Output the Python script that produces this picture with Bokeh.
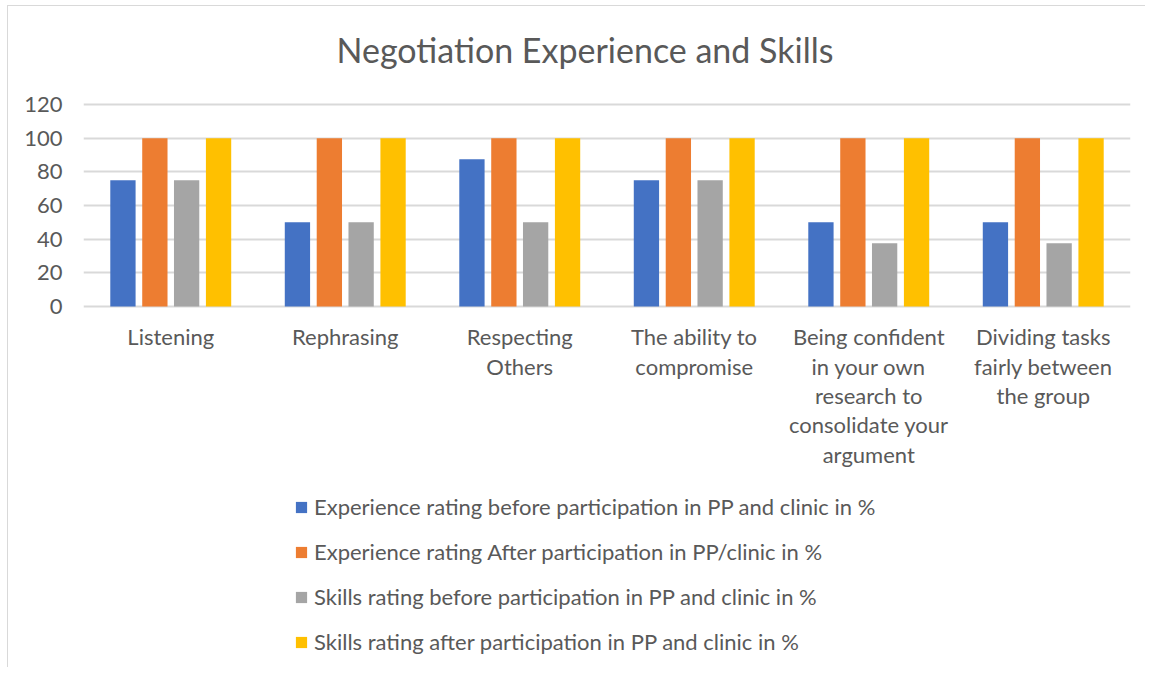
from bokeh.plotting import figure
from bokeh.models import ColumnDataSource, FactorRange, Legend, LegendItem, Range1d, FixedTicker
from bokeh.core.properties import value
from bokeh.transform import dodge
from bokeh.embed import file_html
from bokeh.resources import INLINE

title_text = "Negotiation Experience and Skills"
categories = [
    "Listening",
    "Rephrasing",
    "Respecting\nOthers",
    "The ability to\ncompromise",
    "Being confident\nin your own\nresearch to\nconsolidate your\nargument",
    "Dividing tasks\nfairly between\nthe group",
]
exp_before = [75, 50, 87.5, 75, 50, 50]
exp_after = [100, 100, 100, 100, 100, 100]
skills_before = [75, 50, 50, 75, 37.5, 37.5]
skills_after = [100, 100, 100, 100, 100, 100]
series_names = [
    "Experience rating before participation in PP and clinic in %",
    "Experience rating After participation in PP/clinic in %",
    "Skills rating before participation in PP and clinic in %",
    "Skills rating after participation in PP and clinic in %",
]
y_ticks = [0, 20, 40, 60, 80, 100, 120]
series_values = [exp_before, exp_after, skills_before, skills_after]
colors = ["#4472C4", "#ED7D31", "#A5A5A5", "#FFC000"]
offsets = [-0.274, -0.091, 0.091, 0.274]
bar_width = 0.145

FONT = "Lato"
TXT = "#595959"

# The frame extends above and below the value axis to hold title, category labels and legend.
Y_BOTTOM = -212.7
Y_TOP = 175.25
LABEL_Y = -9.9
TITLE_Y = 152.6

p = figure(
    frame_width=1047, frame_height=653,
    x_range=FactorRange(*categories, range_padding=0),
    y_range=Range1d(Y_BOTTOM, Y_TOP),
    output_backend="svg", toolbar_location=None,
    min_border_left=75, min_border_right=15, min_border_top=5, min_border_bottom=3,
    background_fill_color="white", border_fill_color="white",
)
p.outline_line_color = None
p.styles = {"margin-left": "7px", "margin-top": "5px",
            "border-left": "1px solid #D9D9D9", "border-top": "1px solid #D9D9D9"}

src = ColumnDataSource(dict(cat=categories, **{f"s{i}": v for i, v in enumerate(series_values)}))
items = []
for i, (name, col, off) in enumerate(zip(series_names, colors, offsets)):
    r = p.vbar(x=dodge("cat", off, range=p.x_range), top=f"s{i}", width=bar_width,
               source=src, fill_color=col, line_color=None)
    items.append(LegendItem(label=name, renderers=[r]))

# chart title
p.text(x=[len(categories) / 2], y=[TITLE_Y], text=[title_text], x_offset=-22,
       text_align="center", text_baseline="alphabetic",
       text_font=value(FONT), text_font_size="34px", text_color=TXT)

# category labels under the bars
lab_src = ColumnDataSource(dict(cat=categories, y=[LABEL_Y] * len(categories)))
p.text(x="cat", y="y", text="cat", source=lab_src,
       text_align="center", text_baseline="top",
       text_font=value(FONT), text_font_size="22px", text_color=TXT,
       text_line_height=1.09)

p.xaxis.visible = False
p.xgrid.grid_line_color = None
p.ygrid.grid_line_color = "#D9D9D9"
p.ygrid.grid_line_width = 2
p.yaxis.ticker = FixedTicker(ticks=y_ticks)

ax = p.yaxis[0]
ax.axis_line_color = None
ax.major_tick_line_color = None
ax.minor_tick_line_color = None
ax.major_label_text_font = FONT
ax.major_label_text_font_size = "22px"
ax.major_label_text_color = TXT
ax.major_label_standoff = 15

legend = Legend(items=items, orientation="vertical", location=(211, 9))
legend.label_text_font = FONT
legend.label_text_font_size = "22px"
legend.label_text_color = TXT
legend.glyph_width = 14
legend.glyph_height = 14
legend.label_standoff = 6
legend.label_height = 26
legend.spacing = 18
legend.padding = 0
legend.margin = 0
legend.border_line_color = None
legend.background_fill_alpha = 0
p.add_layout(legend, "center")

open("out.html", "w").write(file_html(p, INLINE))
